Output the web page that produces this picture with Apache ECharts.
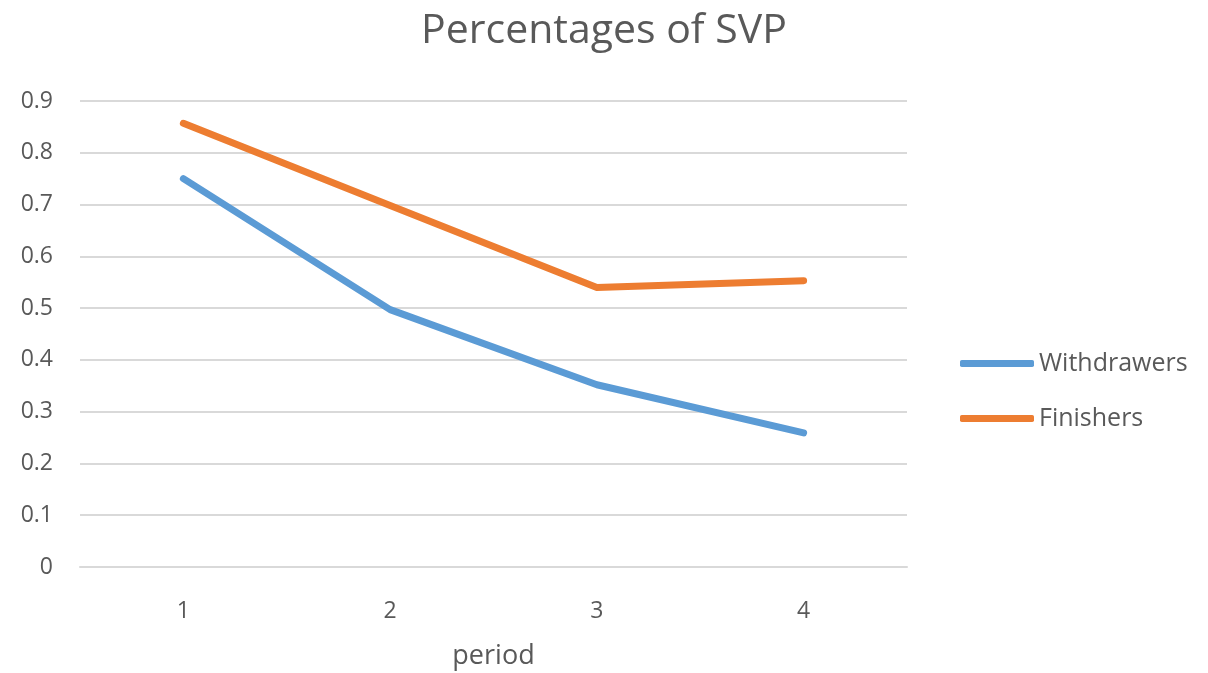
<!DOCTYPE html>
<html>
<head>
<meta charset="utf-8">
<script src="https://cdn.jsdelivr.net/npm/echarts@6/dist/echarts.min.js"></script>
<style>
  html, body { margin: 0; padding: 0; background: #fff; }
  #chart { width: 1208px; height: 673px; }
</style>
</head>
<body>
<div id="chart"></div>
<script>
const periods = ['1', '2', '3', '4']
const withdrawers = [0.75, 0.497, 0.352, 0.259]
const finishers = [0.857, 0.698, 0.54, 0.553]

const textColor = '#595959'
const fontFamily = '"Open Sans", "Noto Sans", sans-serif'

const chart = echarts.init(document.getElementById('chart'))
const option = {
  animation: false,
  title: {
    text: 'Percentages of SVP',
    left: 'center',
    top: 6,
    textStyle: {
      color: textColor,
      fontSize: 41,
      fontWeight: 'normal',
      fontFamily: fontFamily
    }
  },
  legend: {
    orient: 'vertical',
    left: 955,
    top: 346,
    itemWidth: 74,
    itemHeight: 7,
    itemGap: 30,
    icon: 'roundRect',
    textStyle: {
      color: textColor,
      fontSize: 25,
      fontFamily: fontFamily
    },
    data: ['Withdrawers', 'Finishers']
  },
  grid: {
    left: 80,
    right: 301,
    top: 101,
    bottom: 106,
    containLabel: false,
    outerBoundsMode: 'none'
  },
  xAxis: {
    type: 'category',
    data: periods,
    boundaryGap: true,
    name: 'period',
    nameLocation: 'middle',
    nameGap: 76,
    nameTextStyle: {
      color: textColor,
      fontSize: 27,
      fontFamily: fontFamily
    },
    axisLine: { lineStyle: { color: '#d9d9d9', width: 2 } },
    axisTick: { show: false },
    axisLabel: {
      color: textColor,
      fontSize: 23,
      margin: 33,
      fontFamily: fontFamily
    }
  },
  yAxis: {
    type: 'value',
    min: 0,
    max: 0.9,
    interval: 0.1,
    axisLine: { show: false },
    axisTick: { show: false },
    axisLabel: {
      color: textColor,
      fontSize: 23,
      margin: 27,
      fontFamily: fontFamily,
      formatter: v => String(Math.round(v * 10) / 10)
    },
    splitLine: { lineStyle: { color: '#d9d9d9', width: 2 } }
  },
  series: [
    {
      name: 'Withdrawers',
      type: 'line',
      data: withdrawers,
      symbol: 'none',
      itemStyle: { color: '#5b9bd5' },
      lineStyle: { color: '#5b9bd5', width: 7, cap: 'round', join: 'round' }
    },
    {
      name: 'Finishers',
      type: 'line',
      data: finishers,
      symbol: 'none',
      itemStyle: { color: '#ed7d31' },
      lineStyle: { color: '#ed7d31', width: 7, cap: 'round', join: 'round' }
    }
  ]
}
chart.setOption(option)
</script>
</body>
</html>
